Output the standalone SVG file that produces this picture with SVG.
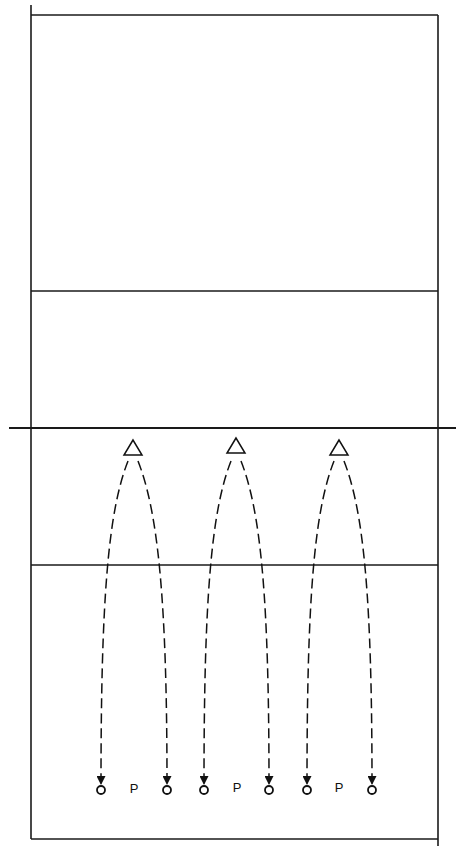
<svg xmlns="http://www.w3.org/2000/svg" width="456" height="846" viewBox="0 0 456 846">
<defs>
<marker id="ah" viewBox="0 0 10 10" refX="9" refY="5" markerWidth="11" markerHeight="9" markerUnits="userSpaceOnUse" orient="auto">
<path d="M0,0 L10,5 L0,10 z" fill="#111"/>
</marker>
<style>
.court{stroke:#1a1a1a;stroke-width:1.6;fill:none}
.tri{stroke:#111;stroke-width:1.5;fill:#fff}
.pl{stroke:#111;stroke-width:1.8;fill:#fff}
.dash{stroke:#111;stroke-width:1.5;fill:none;stroke-dasharray:10 5;marker-end:url(#ah)}
.lbl{font-family:"Liberation Sans",Arial,sans-serif;font-size:13px;fill:#111}
</style>
</defs>
<rect width="456" height="846" fill="#fff"/>
<g id="court">
<line class="court" x1="31" y1="5" x2="31" y2="839"/>
<line class="court" x1="438" y1="15" x2="438" y2="846"/>
<line class="court" x1="31" y1="15" x2="438" y2="15"/>
<line class="court" x1="31" y1="291" x2="438" y2="291"/>
<line class="court" x1="9" y1="428" x2="456" y2="428" style="stroke-width:2"/>
<line class="court" x1="31" y1="565" x2="438" y2="565"/>
<line class="court" x1="31" y1="839" x2="438" y2="839"/>
</g>
<g id="connectors">
<path class="dash" d="M128,461 C108,512 101,600 101,784"/>
<path class="dash" d="M138,461 C158,512 167,600 167,784"/>
<path class="dash" d="M231,461 C211,512 204,600 204,784"/>
<path class="dash" d="M241,461 C261,512 269,600 269,784"/>
<path class="dash" d="M334,461 C314,512 307,600 307,784"/>
<path class="dash" d="M344,461 C364,512 372,600 372,784"/>
</g>
<g id="setter1"><polygon class="tri" points="133,440 124,455 142,455"/></g>
<g id="setter2"><polygon class="tri" points="236,438 227,453 245,453"/></g>
<g id="setter3"><polygon class="tri" points="339,440 330,455 348,455"/></g>
<g id="player1"><circle class="pl" cx="101" cy="790" r="4"/></g>
<g id="player2"><circle class="pl" cx="167" cy="790" r="4"/></g>
<g id="player3"><circle class="pl" cx="204" cy="790" r="4"/></g>
<g id="player4"><circle class="pl" cx="269" cy="790" r="4"/></g>
<g id="player5"><circle class="pl" cx="307" cy="790" r="4"/></g>
<g id="player6"><circle class="pl" cx="372" cy="790" r="4"/></g>
<g id="passer1"><text class="lbl" x="134" y="793" text-anchor="middle">P</text></g>
<g id="passer2"><text class="lbl" x="237" y="792" text-anchor="middle">P</text></g>
<g id="passer3"><text class="lbl" x="339" y="792" text-anchor="middle">P</text></g>
</svg>
